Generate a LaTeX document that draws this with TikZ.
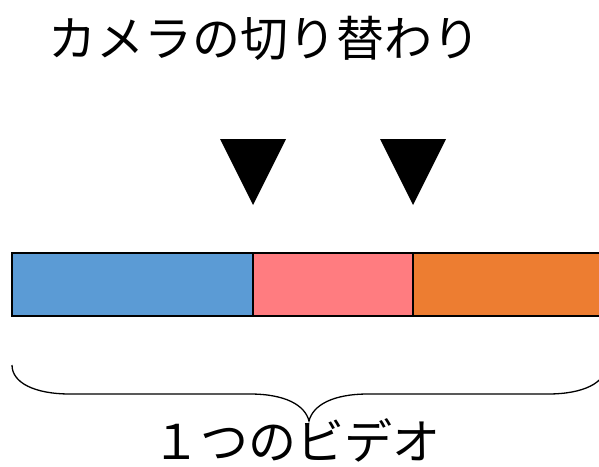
\documentclass[tikz,border=0pt]{standalone}
\usepackage{fontspec}
\newfontfamily\jpfont{Noto Sans CJK JP}
\definecolor{segblue}{HTML}{5B9BD5}
\definecolor{segpink}{HTML}{FF7C80}
\definecolor{segorange}{HTML}{ED7D31}
\begin{document}
\begin{tikzpicture}[x=1pt,y=-1pt,
  seg/.style={draw=black,line width=2.5pt},
  marker/.style={fill=black},
  lbl/.style={font=\jpfont\fontsize{48}{52}\selectfont, inner sep=0pt}]
\useasboundingbox (0,0) rectangle (599,466);
\clip (0,0) rectangle (599,466);
\node[lbl] (title) at (264,38) {カメラの切り替わり};
\fill[marker] (220,139) -- (286,139) -- (253,205) -- cycle;
\fill[marker] (380,139) -- (446,139) -- (413,205) -- cycle;
\filldraw[seg,fill=segblue] (12,253) rectangle (253,316);
\filldraw[seg,fill=segpink] (253,253) rectangle (413,316);
\filldraw[seg,fill=segorange] (413,253) rectangle (620,316);
\draw[line width=1.3pt] (12,365) .. controls (12,383) and (35,394) .. (70,394)
  -- (250,394) .. controls (285,394) and (305,405) .. (309,421)
  .. controls (313,405) and (333,394) .. (368,394)
  -- (548,394) .. controls (583,394) and (606,383) .. (606,365);
\node[lbl] (video) at (296,440) {１つのビデオ};
\end{tikzpicture}
\end{document}
